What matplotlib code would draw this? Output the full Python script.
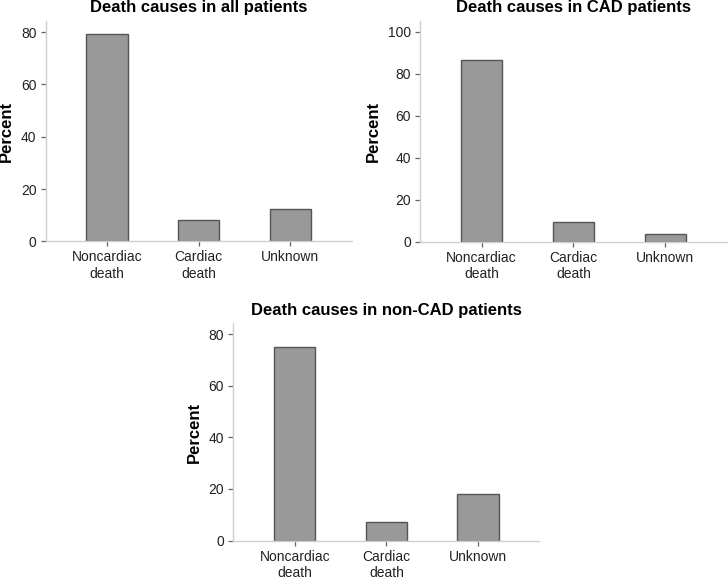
import matplotlib.pyplot as plt
import numpy as np

plt.rcParams["font.family"] = ["Liberation Sans", "DejaVu Sans"]

CATEGORIES = ["Noncardiac\ndeath", "Cardiac\ndeath", "Unknown"]

ALL_PCT = [79.5, 8.0, 12.5]
CAD_PCT = [86.4, 9.7, 3.9]
NON_CAD_PCT = [75.0, 7.2, 17.9]

BAR_COLOR = "#999999"
EDGE_COLOR = "#555555"
SPINE_COLOR = "#cfcfcf"
TICK_COLOR = "#666666"


def draw_panel(ax, values, title, ymax, ticks):
    x = np.arange(len(CATEGORIES))
    ax.bar(x, values, width=0.45, color=BAR_COLOR, edgecolor=EDGE_COLOR, linewidth=1.0)

    ax.set_xlim(-0.67, 2.67)
    ax.set_ylim(0, ymax)
    ax.set_xticks(x)
    ax.set_xticklabels(CATEGORIES, fontsize=10, color="#222222", linespacing=1.2)
    ax.set_yticks(ticks)
    ax.tick_params(axis="y", labelsize=10, labelcolor="#222222")

    ax.set_title(title, fontsize=12, fontweight="bold", pad=6)
    ax.set_ylabel("Percent", fontsize=12, fontweight="bold", labelpad=5)

    for side in ["top", "right"]:
        ax.spines[side].set_visible(False)
    for side in ["left", "bottom"]:
        ax.spines[side].set_color(SPINE_COLOR)
        ax.spines[side].set_linewidth(1.0)
    ax.tick_params(length=3.6, width=0.9, color=TICK_COLOR)
    ax.tick_params(axis="y", pad=3)
    ax.tick_params(axis="x", pad=3)


fig = plt.figure(figsize=(7.28, 5.8), dpi=100)

ax1 = fig.add_axes([0.0628, 0.584, 0.4203, 0.3803])
ax2 = fig.add_axes([0.577, 0.5828, 0.4215, 0.3816])
ax3 = fig.add_axes([0.3205, 0.068, 0.4203, 0.3743])

draw_panel(ax1, ALL_PCT, "Death causes in all patients", 84.4, [0, 20, 40, 60, 80])
draw_panel(ax2, CAD_PCT, "Death causes in CAD patients", 105.2, [0, 20, 40, 60, 80, 100])
draw_panel(ax3, NON_CAD_PCT, "Death causes in non-CAD patients", 84.2, [0, 20, 40, 60, 80])

fig.savefig("out.png", dpi=100)
